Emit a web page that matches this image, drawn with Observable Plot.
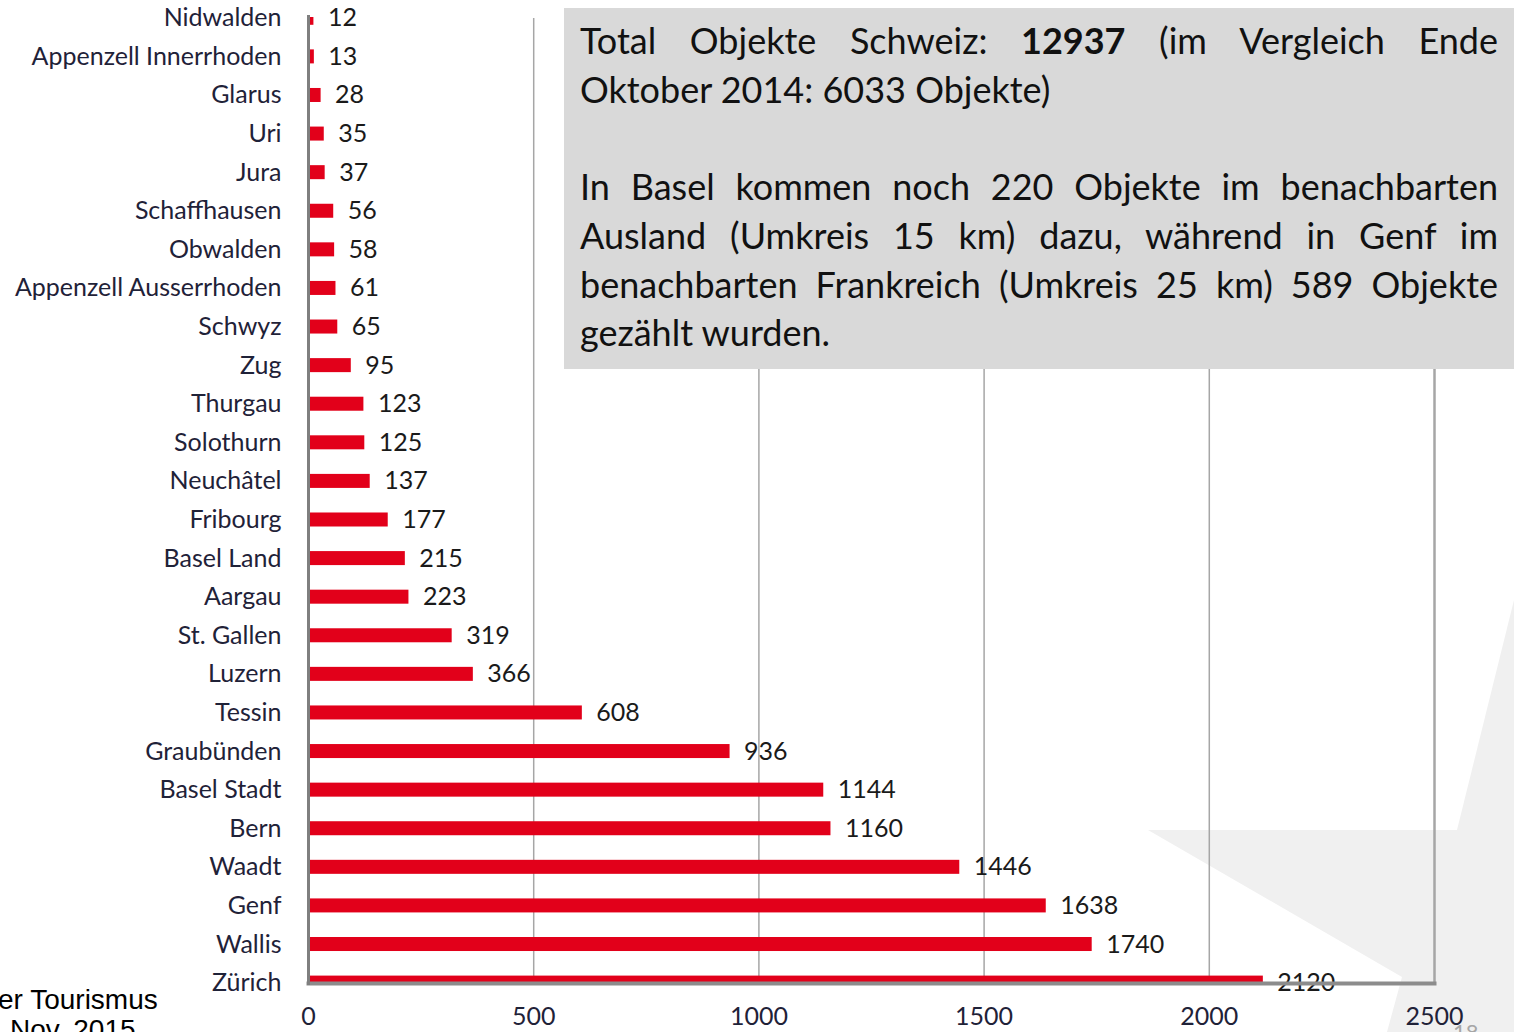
<!DOCTYPE html>
<html>
<head>
<meta charset="utf-8">
<script src="https://cdn.jsdelivr.net/npm/d3@7"></script>
<script src="https://cdn.jsdelivr.net/npm/@observablehq/plot@0.6"></script>
<style>
  html, body { margin:0; padding:0; background:#fff; }
  body { width:1514px; height:1032px; position:relative; overflow:hidden; font-family: Lato, "Open Sans", sans-serif; }
  #star { position:absolute; left:0; top:0; width:1514px; height:1032px; background:#f0f0f0; z-index:0;
    clip-path: polygon(1148px 830px, 1457px 830px, 1514px 600px, 1514px 1032px, 1387px 1032px, 1402px 977px); }
  #chart { position:absolute; left:0; top:0; z-index:1; }
  #box { position:absolute; left:564px; top:8px; width:950px; height:361px; background:#d9d9d9; z-index:2;
    box-sizing:border-box; padding:8px 16px 0 16px; font-size:36px; line-height:48.7px; color:#111; }
  #box .j { text-align:justify; text-align-last:justify; white-space:nowrap; }
  #box .l { text-align:left; white-space:nowrap; }
  #foot1 { position:absolute; left:-2px; top:984px; font-family:"Liberation Sans", Arial, sans-serif; font-size:28px; color:#000; z-index:3; }
  #foot2 { position:absolute; left:10px; top:1014px; font-family:"Liberation Sans", Arial, sans-serif; font-size:28px; color:#000; z-index:3; }
  #page { position:absolute; left:1453px; top:1018px; font-size:22px; color:#a6a6a6; z-index:0; }
</style>
</head>
<body>
<div id="star"></div>
<div id="page">18</div>
<div id="chart"></div>
<div id="box">
  <div class="j">Total Objekte Schweiz: <b>12937</b> (im Vergleich Ende</div>
  <div class="l">Oktober 2014: 6033 Objekte)</div>
  <div class="l">&nbsp;</div>
  <div class="j">In Basel kommen noch 220 Objekte im benachbarten</div>
  <div class="j">Ausland (Umkreis 15 km) dazu, während in Genf im</div>
  <div class="j">benachbarten Frankreich (Umkreis 25 km) 589 Objekte</div>
  <div class="l">gezählt wurden.</div>
</div>
<div id="foot1">er Tourismus</div>
<div id="foot2">Nov. 2015</div>
<script>
const cantons = ["Nidwalden","Appenzell Innerrhoden","Glarus","Uri","Jura","Schaffhausen","Obwalden","Appenzell Ausserrhoden","Schwyz","Zug","Thurgau","Solothurn","Neuchâtel","Fribourg","Basel Land","Aargau","St. Gallen","Luzern","Tessin","Graubünden","Basel Stadt","Bern","Waadt","Genf","Wallis","Zürich"];
const counts = [12,13,28,35,37,56,58,61,65,95,123,125,137,177,215,223,319,366,608,936,1144,1160,1446,1638,1740,2120];
const xTicks = [0,500,1000,1500,2000,2500];
const gridTicks = [500,1000,1500,2000];

const data = cantons.map((c,i) => ({canton:c, count:counts[i]}));

const chart = Plot.plot({
  width: 1514,
  height: 1032,
  marginLeft: 308,
  marginRight: 80,
  marginTop: 17,
  marginBottom: 49,
  style: {background:"transparent", fontFamily:"Lato, 'Open Sans', sans-serif"},
  x: {domain:[0,2500]},
  y: {type:"band", domain:cantons, range:[-1.5, 1001.9], paddingInner:0.637, paddingOuter:0.3185, round:false},
  marks: [
    Plot.ruleX(gridTicks, {stroke:"#a6a6a6", strokeWidth:1.5, insetTop:1}),
    Plot.ruleX([2500], {stroke:"#a6a6a6", strokeWidth:2.5, insetTop:1}),
    Plot.barX(data, {x:"count", y:"canton", fill:"#e2001a", clip:"frame"}),
    Plot.text(data, {x:"count", y:"canton", text:d => String(d.count), dx:14, textAnchor:"start", fontSize:25, fill:"#1a1a1a"}),
    Plot.frame({anchor:"bottom", stroke:"#8c8c8c", strokeWidth:4}),
    Plot.ruleX([0], {stroke:"#7f7f7f", strokeWidth:3, insetTop:-2, insetBottom:-2}),
    Plot.axisY({tickSize:0, tickPadding:27, fontSize:25, label:null, fill:"#1f2238"}),
    Plot.axisX({ticks:xTicks, tickSize:0, tickPadding:24, fontSize:25, label:null, tickFormat:d => String(d), fill:"#1f2238"})
  ]
});
document.getElementById("chart").appendChild(chart);
</script>
</body>
</html>
